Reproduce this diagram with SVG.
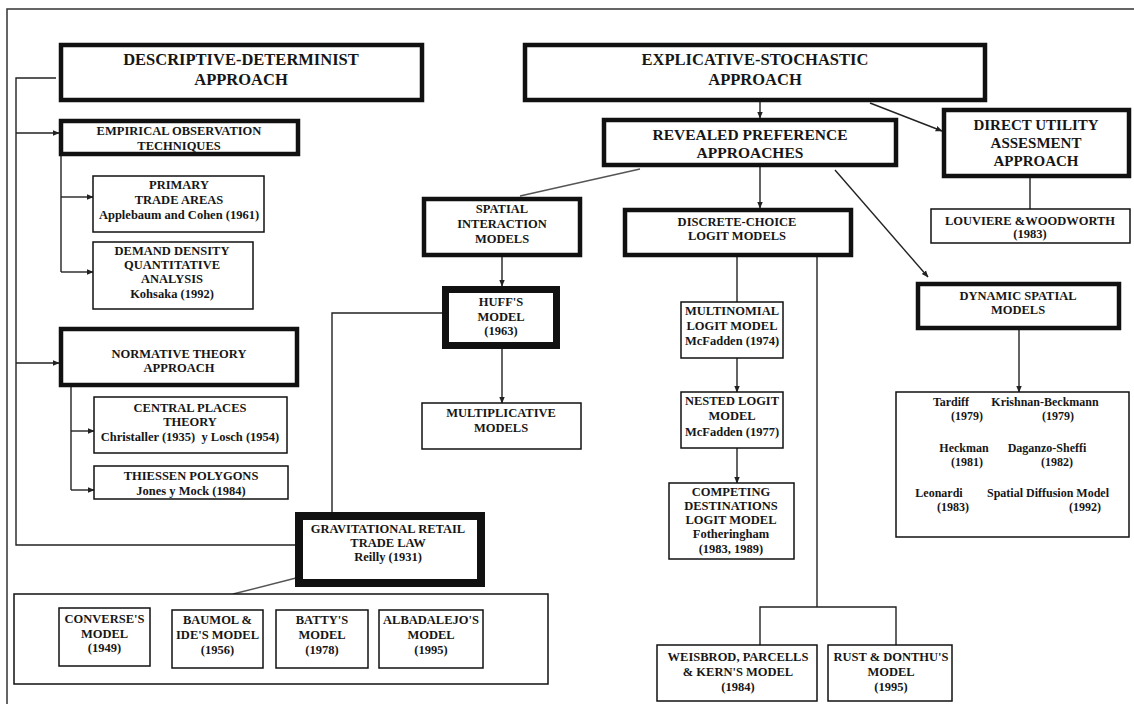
<svg xmlns="http://www.w3.org/2000/svg" width="1134" height="704" viewBox="0 0 1134 704">
<style>
  .bx{fill:#fff;stroke:#111;stroke-width:1.5}
  .k4{fill:#fff;stroke:#111;stroke-width:4.5}
  .k7{fill:#fff;stroke:#111;stroke-width:7}
  .k8{fill:#fff;stroke:#111;stroke-width:8}
  .t{font-family:"Liberation Serif","Times New Roman",serif;font-weight:bold;font-size:12.5px;text-anchor:middle;fill:#161616}
  .s{font-size:12px}
  .m{font-size:15px}
  .m2{font-size:15.5px}
  .b{font-size:16.5px}
  .ln{fill:none;stroke:#222;stroke-width:1.4}
  .la{fill:none;stroke:#222;stroke-width:1.4;marker-end:url(#ah)}
  .lg{fill:none;stroke:#555;stroke-width:1.4}
</style>
<defs>
  <marker id="ah" viewBox="0 0 10 10" refX="9" refY="5" markerWidth="5" markerHeight="5" orient="auto" markerUnits="strokeWidth">
    <path d="M0,1 L10,5 L0,9 z" fill="#222"/>
  </marker>
</defs>
<rect width="1134" height="704" fill="#fff"/>
<rect x="7" y="9" width="1140" height="710" fill="none" stroke="#333" stroke-width="1.5"/>

<g id="connectors">
  <polyline class="ln" points="56,78 16,78 16,545 295,545"/>
  <line class="la" x1="16" y1="133" x2="59" y2="133"/>
  <line class="la" x1="16" y1="363" x2="59" y2="363"/>
  <polyline class="ln" points="61,156 61,272"/>
  <line class="la" x1="61" y1="197" x2="93" y2="197"/>
  <line class="la" x1="61" y1="272" x2="93" y2="272"/>
  <polyline class="ln" points="71,387 71,490"/>
  <line class="la" x1="71" y1="431" x2="94" y2="431"/>
  <line class="la" x1="71" y1="490" x2="94" y2="490"/>
  <line class="la" x1="760" y1="102" x2="760" y2="118"/>
  <line class="la" x1="870" y1="103" x2="942" y2="131"/>
  <line class="lg" x1="640" y1="169" x2="520" y2="196"/>
  <line class="la" x1="760" y1="167" x2="760" y2="208"/>
  <line class="la" x1="835" y1="170" x2="928" y2="277"/>
  <line class="ln" x1="1030" y1="178" x2="1030" y2="209"/>
  <line class="la" x1="502" y1="257" x2="502" y2="286"/>
  <line class="la" x1="502" y1="349" x2="502" y2="403"/>
  <polyline class="ln" points="332,512 332,313 442,313"/>
  <line class="lg" x1="296" y1="578" x2="233" y2="594"/>
  <line class="ln" x1="737" y1="257" x2="737" y2="302"/>
  <line class="la" x1="737" y1="358" x2="737" y2="392"/>
  <line class="la" x1="737" y1="448" x2="737" y2="483"/>
  <polyline class="ln" points="817,257 817,607"/>
  <polyline class="ln" points="760,645 760,607 896,607 896,645"/>
  <line class="la" x1="1019" y1="330" x2="1019" y2="392"/>
</g>

<g id="descriptive">
  <rect class="k4" x="61" y="45" width="361" height="55"/>
  <text class="t b" x="241" y="65">DESCRIPTIVE-DETERMINIST</text>
  <text class="t b" x="241" y="85">APPROACH</text>
</g>
<g id="explicative">
  <rect class="k4" x="525" y="45" width="460" height="55"/>
  <text class="t b" x="755" y="65">EXPLICATIVE-STOCHASTIC</text>
  <text class="t b" x="755" y="85">APPROACH</text>
</g>
<g id="empirical">
  <rect class="k4" x="61" y="121" width="237" height="33"/>
  <text class="t" x="179" y="135">EMPIRICAL OBSERVATION</text>
  <text class="t" x="179" y="150">TECHNIQUES</text>
</g>
<g id="primary">
  <rect class="bx" x="93" y="176" width="171" height="56"/>
  <text class="t" x="179" y="189">PRIMARY</text>
  <text class="t" x="179" y="204">TRADE AREAS</text>
  <text class="t" x="179" y="219">Applebaum and Cohen (1961)</text>
</g>
<g id="demand">
  <rect class="bx" x="93" y="242" width="160" height="67"/>
  <text class="t" x="172" y="255">DEMAND DENSITY</text>
  <text class="t" x="172" y="269">QUANTITATIVE</text>
  <text class="t" x="172" y="283">ANALYSIS</text>
  <text class="t" x="172" y="298">Kohsaka (1992)</text>
</g>
<g id="normative">
  <rect class="k4" x="61" y="329" width="236" height="56"/>
  <text class="t" x="179" y="358">NORMATIVE THEORY</text>
  <text class="t" x="179" y="372">APPROACH</text>
</g>
<g id="central">
  <rect class="bx" x="94" y="397" width="193" height="56"/>
  <text class="t" x="190" y="412">CENTRAL PLACES</text>
  <text class="t" x="190" y="426">THEORY</text>
  <text class="t" x="190" y="441" xml:space="preserve">Christaller (1935)  y Losch (1954)</text>
</g>
<g id="thiessen">
  <rect class="bx" x="94" y="466" width="194" height="33"/>
  <text class="t" x="191" y="480">THIESSEN POLYGONS</text>
  <text class="t" x="191" y="495">Jones y Mock (1984)</text>
</g>
<g id="spatial">
  <rect class="k4" x="424" y="199" width="156" height="56"/>
  <text class="t" x="502" y="213">SPATIAL</text>
  <text class="t" x="502" y="228">INTERACTION</text>
  <text class="t" x="502" y="243">MODELS</text>
</g>
<g id="huff">
  <rect class="k7" x="445.5" y="289.5" width="111" height="56"/>
  <text class="t" x="501" y="306">HUFF'S</text>
  <text class="t" x="501" y="321">MODEL</text>
  <text class="t" x="501" y="335">(1963)</text>
</g>
<g id="multiplicative">
  <rect class="bx" x="422" y="403" width="159" height="46"/>
  <text class="t" x="501" y="417">MULTIPLICATIVE</text>
  <text class="t" x="501" y="432">MODELS</text>
</g>
<g id="gravitational">
  <rect class="k8" x="299" y="516" width="182" height="67"/>
  <text class="t" x="388" y="533">GRAVITATIONAL RETAIL</text>
  <text class="t" x="388" y="547">TRADE LAW</text>
  <text class="t" x="388" y="561">Reilly (1931)</text>
</g>
<g id="gravity-models">
  <rect class="bx" x="14" y="594" width="534" height="90"/>
</g>
<g id="converse">
  <rect class="bx" x="59" y="608" width="91" height="58"/>
  <text class="t" x="104.5" y="623">CONVERSE'S</text>
  <text class="t" x="104.5" y="638">MODEL</text>
  <text class="t" x="104.5" y="652">(1949)</text>
</g>
<g id="baumol">
  <rect class="bx" x="172" y="610" width="91" height="58"/>
  <text class="t" x="217.5" y="624">BAUMOL &amp;</text>
  <text class="t" x="217.5" y="639">IDE'S MODEL</text>
  <text class="t" x="217.5" y="654">(1956)</text>
</g>
<g id="batty">
  <rect class="bx" x="276" y="610" width="92" height="58"/>
  <text class="t" x="322" y="624">BATTY'S</text>
  <text class="t" x="322" y="639">MODEL</text>
  <text class="t" x="322" y="654">(1978)</text>
</g>
<g id="albadalejo">
  <rect class="bx" x="379" y="610" width="104" height="58"/>
  <text class="t" x="431" y="624">ALBADALEJO'S</text>
  <text class="t" x="431" y="639">MODEL</text>
  <text class="t" x="431" y="654">(1995)</text>
</g>
<g id="revealed">
  <rect class="k4" x="604" y="120" width="292" height="45"/>
  <text class="t m2" x="750" y="140">REVEALED PREFERENCE</text>
  <text class="t m2" x="750" y="158">APPROACHES</text>
</g>
<g id="direct">
  <rect class="k4" x="944" y="110" width="185" height="66"/>
  <text class="t m" x="1036" y="130">DIRECT UTILITY</text>
  <text class="t m" x="1036" y="148">ASSESMENT</text>
  <text class="t m" x="1036" y="166">APPROACH</text>
</g>
<g id="louviere">
  <rect class="bx" x="931" y="209" width="199" height="34"/>
  <text class="t" x="1030" y="225">LOUVIERE &amp;WOODWORTH</text>
  <text class="t" x="1030" y="238">(1983)</text>
</g>
<g id="discrete">
  <rect class="k4" x="625" y="210" width="226" height="45"/>
  <text class="t" x="737" y="226">DISCRETE-CHOICE</text>
  <text class="t" x="737" y="240">LOGIT MODELS</text>
</g>
<g id="multinomial">
  <rect class="bx" x="681" y="302" width="102" height="56"/>
  <text class="t" x="732" y="315">MULTINOMIAL</text>
  <text class="t" x="732" y="330">LOGIT MODEL</text>
  <text class="t" x="732" y="345">McFadden (1974)</text>
</g>
<g id="nested">
  <rect class="bx" x="681" y="392" width="102" height="56"/>
  <text class="t" x="732" y="405">NESTED LOGIT</text>
  <text class="t" x="732" y="420">MODEL</text>
  <text class="t" x="732" y="436">McFadden (1977)</text>
</g>
<g id="competing">
  <rect class="bx" x="669" y="483" width="125" height="76"/>
  <text class="t" x="731" y="496">COMPETING</text>
  <text class="t" x="731" y="510">DESTINATIONS</text>
  <text class="t" x="731" y="524">LOGIT MODEL</text>
  <text class="t" x="731" y="538">Fotheringham</text>
  <text class="t" x="731" y="553">(1983, 1989)</text>
</g>
<g id="weisbrod">
  <rect class="bx" x="657" y="645" width="160" height="56"/>
  <text class="t" x="738" y="661">WEISBROD, PARCELLS</text>
  <text class="t" x="738" y="676">&amp; KERN'S MODEL</text>
  <text class="t" x="738" y="691">(1984)</text>
</g>
<g id="rust">
  <rect class="bx" x="828" y="645" width="124" height="56"/>
  <text class="t" x="891" y="661">RUST &amp; DONTHU'S</text>
  <text class="t" x="891" y="676">MODEL</text>
  <text class="t" x="891" y="691">(1995)</text>
</g>
<g id="dynamic">
  <rect class="k4" x="918" y="284" width="201" height="44"/>
  <text class="t" x="1018" y="300">DYNAMIC SPATIAL</text>
  <text class="t" x="1018" y="314">MODELS</text>
</g>
<g id="dynamic-models">
  <rect class="bx" x="896" y="392" width="233" height="145"/>
  <text class="t s" x="951" y="406">Tardiff</text>
  <text class="t s" x="1045" y="406">Krishnan-Beckmann</text>
  <text class="t s" x="967" y="420">(1979)</text>
  <text class="t s" x="1058" y="420">(1979)</text>
  <text class="t s" x="964" y="452">Heckman</text>
  <text class="t s" x="1047" y="452">Daganzo-Sheffi</text>
  <text class="t s" x="967" y="466">(1981)</text>
  <text class="t s" x="1057" y="466">(1982)</text>
  <text class="t s" x="939" y="497">Leonardi</text>
  <text class="t s" x="1048" y="497">Spatial Diffusion Model</text>
  <text class="t s" x="953" y="511">(1983)</text>
  <text class="t s" x="1085" y="511">(1992)</text>
</g>
</svg>
